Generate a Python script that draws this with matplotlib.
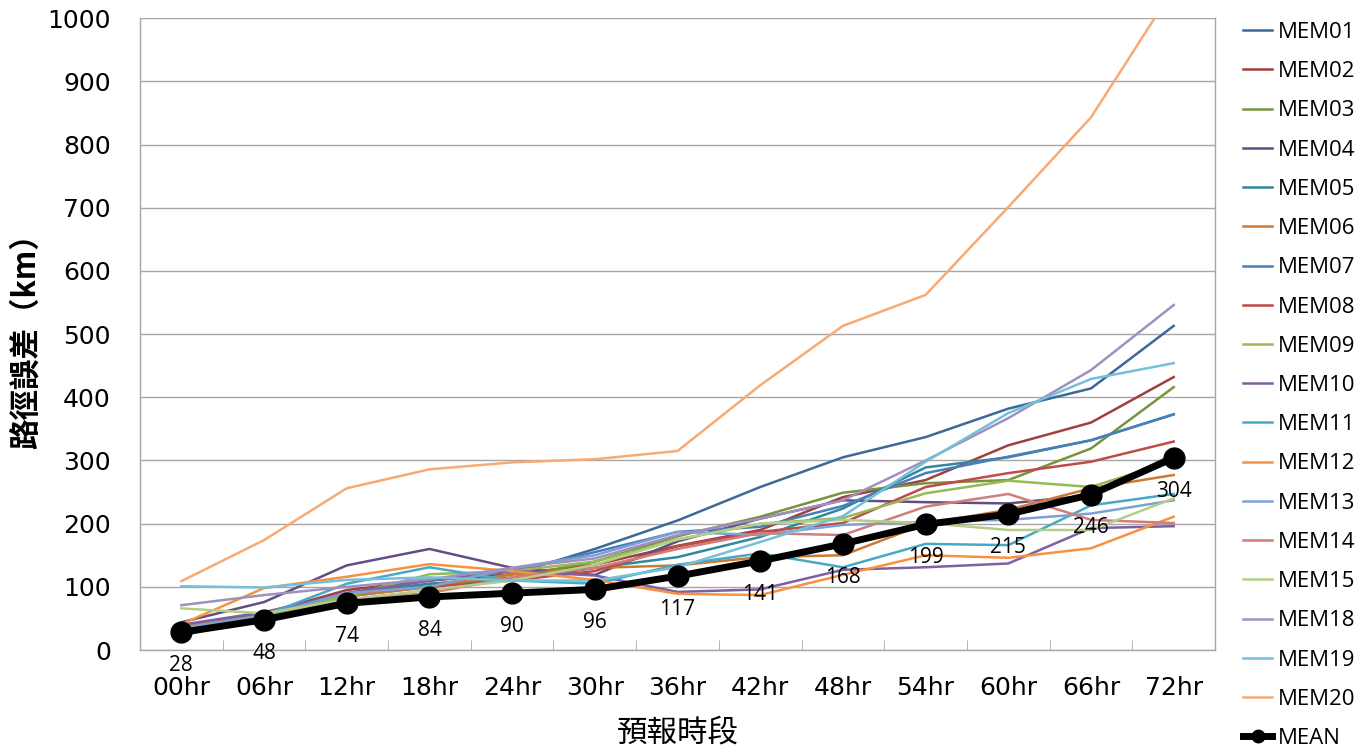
import numpy as np
import matplotlib
matplotlib.use("Agg")
import matplotlib.pyplot as plt
from matplotlib.ticker import FixedLocator

# forecast hours
hours = ["00hr", "06hr", "12hr", "18hr", "24hr", "30hr", "36hr",
         "42hr", "48hr", "54hr", "60hr", "66hr", "72hr"]

# track error (km) for each ensemble member
mem01 = [35, 55, 85, 100, 120, 160, 205, 258, 305, 337, 382, 414, 513]
mem02 = [35, 58, 95, 110, 120, 135, 165, 190, 242, 269, 324, 360, 432]
mem03 = [38, 55, 85, 105, 115, 140, 180, 211, 249, 264, 269, 319, 416]
mem04 = [44, 76, 134, 160, 130, 119, 172, 208, 237, 234, 232, 245, 310]
mem05 = [30, 55, 90, 105, 110, 130, 147, 179, 224, 289, 305, 332, 373]
mem06 = [38, 55, 85, 100, 120, 130, 134, 147, 150, 200, 222, 256, 277]
mem07 = [35, 55, 90, 110, 125, 155, 187, 195, 228, 280, 306, 332, 373]
mem08 = [35, 55, 90, 100, 110, 125, 164, 187, 201, 258, 280, 298, 330]
mem09 = [35, 55, 85, 120, 125, 140, 175, 200, 209, 248, 268, 258, 300]
mem10 = [40, 60, 90, 110, 125, 118, 92, 96, 127, 131, 137, 193, 196]
mem11 = [22, 55, 105, 131, 110, 105, 135, 153, 131, 168, 166, 229, 247]
mem12 = [41, 98, 116, 136, 125, 111, 89, 87, 119, 150, 146, 161, 211]
mem13 = [35, 55, 90, 100, 130, 150, 187, 182, 198, 203, 206, 216, 237]
mem14 = [32, 50, 80, 90, 115, 130, 160, 185, 182, 227, 247, 206, 201]
mem15 = [66, 58, 80, 95, 110, 135, 175, 200, 206, 201, 190, 190, 240]
mem18 = [71, 87, 100, 112, 130, 145, 182, 208, 237, 300, 367, 443, 546]
mem19 = [101, 99, 111, 115, 110, 110, 131, 171, 212, 298, 375, 429, 454]
mem20 = [109, 174, 256, 286, 297, 302, 315, 419, 513, 562, 701, 843, 1047]
mean = [28, 48, 74, 84, 90, 96, 117, 141, 168, 199, 215, 246, 304]

members = [
    ("MEM01", mem01, "#3C6998"),
    ("MEM02", mem02, "#A0403D"),
    ("MEM03", mem03, "#77943D"),
    ("MEM04", mem04, "#644D84"),
    ("MEM05", mem05, "#2F88A0"),
    ("MEM06", mem06, "#CC7A33"),
    ("MEM07", mem07, "#4A7EBB"),
    ("MEM08", mem08, "#BE4B48"),
    ("MEM09", mem09, "#98B954"),
    ("MEM10", mem10, "#7D60A0"),
    ("MEM11", mem11, "#46AAC5"),
    ("MEM12", mem12, "#F69240"),
    ("MEM13", mem13, "#7EA1D4"),
    ("MEM14", mem14, "#D17D7B"),
    ("MEM15", mem15, "#B4CE86"),
    ("MEM18", mem18, "#A190BF"),
    ("MEM19", mem19, "#74C0D8"),
    ("MEM20", mem20, "#F9AA73"),
]

cjk = ["Noto Sans CJK TC", "DejaVu Sans"]

fig = plt.figure(figsize=(13.7, 7.55), dpi=100)
ax = fig.add_axes([0.1022, 0.139, 0.7847, 0.837])

x = np.arange(len(hours))
for name, vals, col in members:
    ax.plot(x, vals, color=col, lw=1.8, label=name, solid_joinstyle="miter")

ax.plot(x, mean, color="black", lw=5, marker="o", ms=15, label="MEAN", zorder=5)
for xi, v in zip(x, mean):
    ax.annotate(str(v), (xi, v), xytext=(0, -24), textcoords="offset points",
                ha="center", va="center", fontsize=15, family="Open Sans",
                annotation_clip=False, zorder=6)

ax.set_xlim(-0.5, len(hours) - 0.5)
ax.set_ylim(0, 1000)
ax.set_yticks(np.arange(0, 1001, 100))
ax.set_xticks(x)
ax.set_xticklabels(hours)
ax.xaxis.set_minor_locator(FixedLocator(np.arange(0.5, len(hours) - 0.5, 1)))
ax.tick_params(axis="x", which="major", length=0, pad=19, labelsize=18)
ax.tick_params(axis="x", which="minor", direction="in", length=7, color="#A6A6A6")
ax.tick_params(axis="y", length=0, pad=21, labelsize=18)

ax.grid(axis="y", color="#A6A6A6", lw=1)
ax.set_axisbelow(True)
ax.spines["top"].set_visible(False)
for s in ["left", "right", "bottom"]:
    ax.spines[s].set_color("#A6A6A6")
    ax.spines[s].set_linewidth(1)

ax.set_xlabel("預報時段", family=cjk, fontsize=22, labelpad=12)
ax.set_ylabel("路徑誤差（km）", family=cjk, fontsize=22, fontweight="bold", labelpad=4)

leg = ax.legend(loc="upper left", bbox_to_anchor=(1.018, 1.008), frameon=False,
                prop={"family": "Open Sans", "size": 16}, handlelength=1.3,
                handletextpad=0.25, labelspacing=0.82, borderaxespad=0,
                markerscale=0.6)

fig.savefig("out.png", dpi=100)
